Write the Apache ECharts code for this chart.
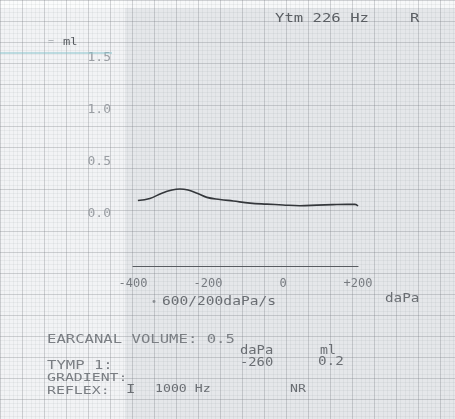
<!DOCTYPE html>
<html><head><meta charset="utf-8">
<script src="https://cdn.jsdelivr.net/npm/echarts@6/dist/echarts.min.js"></script>
<style>html,body{margin:0;padding:0;background:#e6e8eb}#c{width:455px;height:419px}</style>
</head><body><div id="c"></div>
<script>
// Tympanogram data (pressure in daPa, compliance in ml)
const pressure = [-387,-355,-323,-296,-275,-253,-229,-203,-168,-133,-88,-43,0,45,91,133,171,192,200];
const compliance = [0.13,0.15,0.20,0.23,0.24,0.23,0.20,0.16,0.14,0.125,0.105,0.095,0.087,0.08,0.085,0.09,0.093,0.093,0.077];
const xTicks = [-400,-200,0,200];
const xTickLabels = ['-400','-200','0','+200'];
const yTicks = [0,0.5,1.0,1.5];
const yTickLabels = ['0.0','0.5','1.0','1.5'];

const font = '"DejaVu Sans Mono"';
function T(x,y,s,color,size,sx){
  return {type:'text',x:x,y:y,z:10,scaleX:sx||1.3,
    style:{text:s,fill:color||'#74787d',font:(size||12)+'px '+font,textVerticalAlign:'middle',verticalAlign:'middle'}};
}

const chart = echarts.init(document.getElementById('c'));
chart.setOption({
  backgroundColor:'#e5e7ea',
  animation:false,
  grid:[
    {left:0,right:0,top:0,bottom:0,show:false},
    {left:133,width:225,top:58,height:208,show:false}
  ],
  xAxis:[
    {gridIndex:0,type:'value',min:0,max:455,interval:22,axisLine:{show:false},axisTick:{show:false},axisLabel:{show:false},
     splitLine:{lineStyle:{color:'rgba(120,125,132,0.32)',width:1}},
     minorTick:{show:false,splitNumber:5},minorSplitLine:{show:true,lineStyle:{color:'rgba(140,145,150,0.10)',width:1}}},
    {gridIndex:1,type:'value',min:-400,max:200,interval:200,
     axisLine:{show:true,onZero:false,lineStyle:{color:'#585c61',width:1.2}},axisTick:{show:false},splitLine:{show:false},
     axisLabel:{margin:12,color:'#777b80',fontSize:12,fontFamily:'DejaVu Sans Mono',
       formatter:v=>{const i=xTicks.indexOf(v);return i>=0?xTickLabels[i]:'';}}}
  ],
  yAxis:[
    {gridIndex:0,type:'value',min:0,max:419,interval:21,inverse:true,axisLine:{show:false},axisTick:{show:false},axisLabel:{show:false},
     splitLine:{lineStyle:{color:'rgba(120,125,132,0.32)',width:1}},
     minorTick:{show:false,splitNumber:5},minorSplitLine:{show:true,lineStyle:{color:'rgba(140,145,150,0.10)',width:1}}},
    {gridIndex:1,type:'value',min:-0.5,max:1.5,interval:0.5,
     axisLine:{show:false},axisTick:{show:false},splitLine:{show:false},
     axisLabel:{margin:22,color:'#9a9ea3',fontSize:13,fontFamily:'DejaVu Sans Mono',
       formatter:v=>{const i=yTicks.findIndex(t=>Math.abs(t-v)<1e-9);return i>=0?yTickLabels[i]:'';}}}
  ],
  series:[
    {type:'line',xAxisIndex:1,yAxisIndex:1,data:pressure.map((p,i)=>[p,compliance[i]]),
     smooth:0.4,showSymbol:false,lineStyle:{color:'#34373b',width:1.6},z:5}
  ],
  graphic:[
    {type:'rect',left:0,top:0,z:-1,shape:{width:125,height:419},style:{fill:'rgba(255,255,255,0.5)'}},
    {type:'rect',left:0,top:0,z:-1,shape:{width:455,height:8},style:{fill:'rgba(255,255,255,0.7)'}},
    {type:'line',z:10,shape:{x1:0,y1:53,x2:112,y2:53},style:{stroke:'#86c3cc',lineWidth:1}},
    T(275,19,'Ytm 226 Hz','#5a5e63'),
    T(410,19,'R','#5a5e63'),
    T(48,42,'=','#b4b8bc',10,1),
    T(63,42,'ml','#55595e',11,1.1),
    T(151,302,'•','#8a8e93',10,1),
    T(162,302,'600/200daPa/s','#6a6e73',13,1.12),
    T(385,299,'daPa','#6a6e73',13,1.1),
    T(47,340,'EARCANAL VOLUME: 0.5','#7a7e83'),
    T(240,351,'daPa','#6a6e73',12,1.15),
    T(320,351,'ml','#6a6e73',12,1.1),
    T(47,366,'TYMP 1:','#7a7e83'),
    T(240,363,'-260','#6a6e73',12,1.15),
    T(318,362,'0.2','#6a6e73',13,1.1),
    T(47,378,'GRADIENT:','#7a7e83',11,1.35),
    T(47,391,'REFLEX:','#7a7e83',11,1.35),
    T(126,390,'I','#6a6e73'),
    T(155,389,'1000 Hz','#6a6e73',11,1.2),
    T(290,389,'NR','#6a6e73',11,1.2)
  ]
});
</script></body></html>
